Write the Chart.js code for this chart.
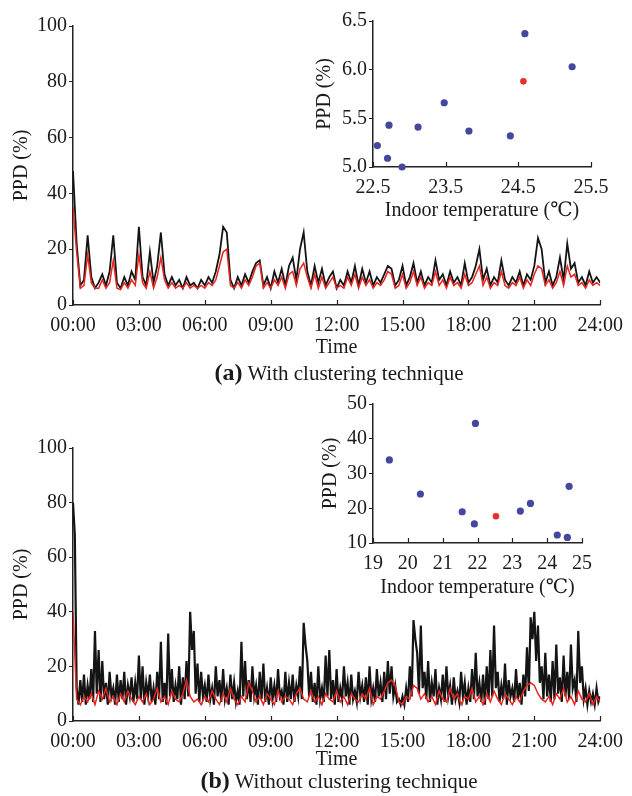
<!DOCTYPE html>
<html>
<head>
<meta charset="utf-8">
<script src="https://cdn.jsdelivr.net/npm/chart.js@4.4.0/dist/chart.umd.min.js"></script>
<style>
body{margin:0;background:#fff;width:632px;height:796px;position:relative;overflow:hidden;
  font-family:"Liberation Serif","DejaVu Serif",serif;color:#1a1a1a}
canvas{position:absolute}
.cap{position:absolute;left:339px;transform:translateX(-50%);white-space:nowrap;font-size:21px;line-height:24px}
.cap b{font-size:24px}
</style>
</head>
<body>
<canvas id="mainA" width="632" height="362" style="left:0;top:0"></canvas>
<canvas id="insetA" width="332" height="225" style="left:300px;top:0"></canvas>
<div class="cap" style="top:360px"><b>(a)</b> With clustering technique</div>
<canvas id="mainB" width="632" height="374" style="left:0;top:400px"></canvas>
<canvas id="insetB" width="332" height="222" style="left:300px;top:380px"></canvas>
<div class="cap" style="top:768px"><b>(b)</b> Without clustering technique</div>
<script>
// time axis
const timeTicks = [0, 3, 6, 9, 12, 15, 18, 21, 24];
const timeLabels = ['00:00', '03:00', '06:00', '09:00', '12:00', '15:00', '18:00', '21:00', '24:00'];

// (a) with clustering, one value every 10 min
const stepA = 1 / 6;
const blackA = [
  48, 22, 7, 9, 25, 10,
  6, 8, 11, 7, 12, 25,
  8, 6, 10, 7, 12, 9,
  28, 10, 7, 19, 8, 14,
  26, 11, 7, 10, 7, 9,
  6, 10, 7, 8, 6, 9,
  7, 10, 8, 12, 18, 28,
  26, 9, 6, 10, 7, 11,
  8, 12, 15, 16, 7, 10,
  6, 12, 8, 13, 7, 14,
  17, 9, 20, 26, 12, 7,
  14, 8, 13, 7, 10, 12,
  6, 9, 7, 12, 8, 14,
  7, 13, 8, 12, 7, 10,
  8, 11, 14, 13, 7, 9,
  14, 7, 10, 15, 8, 12,
  7, 10, 8, 16, 9, 11,
  7, 12, 8, 10, 7, 15,
  8, 10, 14, 20, 9, 13,
  7, 10, 8, 16, 9, 7,
  10, 8, 12, 7, 11, 9,
  14, 24, 20, 8, 12, 7,
  10, 17, 9, 22, 13, 15,
  8, 10, 7, 12, 8, 10,
  8
];
const redA = [
  35, 19, 6, 7, 18, 8,
  6, 6, 9, 6, 8, 16,
  6, 5.5, 8, 6, 9, 7,
  18, 8, 6, 12, 6, 10,
  17, 9, 6, 8, 6, 7,
  6, 8, 6, 7, 6, 7,
  6, 8, 7, 9, 14, 19,
  20, 7, 6, 8, 6, 9,
  7, 10, 14, 15, 6, 8,
  6, 9, 7, 10, 6, 11,
  12, 7, 13, 15, 10, 6,
  11, 6, 10, 6, 8, 10,
  6, 7, 6, 10, 7, 11,
  6, 10, 7, 9, 6, 8,
  7, 9, 12, 11, 6, 7,
  11, 6, 8, 12, 7, 10,
  6, 8, 7, 12, 7, 9,
  6, 10, 7, 8, 6, 11,
  7, 8, 11, 14, 7, 10,
  6, 8, 7, 12, 7, 6,
  8, 7, 10, 6, 9, 7,
  11, 14, 13, 7, 9, 6,
  8, 12, 7, 14, 10, 11,
  7, 8, 6, 9, 7, 8,
  7
];

// (b) without clustering: black every 5 min, red every 10 min
const stepBlackB = 1 / 12;
const blackB = [
  80, 68, 12, 6, 15, 7, 17, 6, 13, 8, 19, 7,
  33, 10, 26, 7, 22, 8, 14, 6, 18, 9, 12, 6,
  17, 7, 15, 8, 18, 6, 13, 9, 16, 7, 14, 8,
  24, 8, 20, 6, 14, 9, 17, 7, 12, 6, 18, 8,
  29, 7, 14, 6, 32, 9, 19, 7, 13, 8, 20, 6,
  16, 8, 22, 9, 40, 26, 33, 10, 21, 7, 18, 9,
  13, 7, 17, 8, 12, 6, 20, 9, 15, 7, 19, 8,
  12, 6, 17, 8, 14, 7, 11, 6, 29, 9, 22, 8,
  15, 7, 20, 9, 13, 6, 18, 8, 21, 7, 12, 6,
  16, 8, 13, 7, 19, 9, 11, 6, 18, 7, 14, 8,
  17, 7, 13, 9, 20, 8, 36, 28, 22, 9, 18, 7,
  14, 6, 20, 8, 12, 7, 24, 9, 26, 8, 15, 6,
  19, 7, 12, 8, 20, 9, 14, 6, 17, 8, 11, 7,
  18, 9, 13, 7, 16, 6, 20, 8, 12, 7, 19, 9,
  14, 7, 18, 8, 22, 10, 20, 9, 13, 7, 8, 6,
  9, 6, 12, 7, 20, 9, 37, 30, 25, 10, 35, 12,
  18, 8, 22, 7, 14, 9, 19, 6, 12, 8, 17, 7,
  20, 9, 13, 6, 16, 8, 11, 7, 18, 9, 14, 6,
  12, 7, 19, 8, 25, 9, 14, 7, 17, 6, 20, 8,
  26, 9, 35, 12, 18, 7, 13, 8, 21, 6, 15, 9,
  12, 7, 19, 8, 14, 6, 17, 9, 27, 11, 38, 30,
  40, 22, 35, 14, 20, 8, 25, 9, 17, 7, 22, 8,
  28, 10, 16, 7, 24, 9, 18, 8, 28, 12, 15, 7,
  33, 14, 20, 8, 12, 6, 11, 7, 10, 6, 12, 7,
  9
];
const stepRedB = 1 / 6;
const redB = [
  40, 8, 6, 9, 7, 10,
  6, 11, 8, 12, 7, 9,
  6, 10, 7, 11, 8, 6,
  9, 7, 10, 6, 8, 12,
  7, 9, 6, 11, 8, 7,
  10, 15, 9, 7, 8, 6,
  9, 7, 11, 8, 6, 10,
  7, 12, 8, 6, 9, 7,
  14, 11, 7, 9, 6, 10,
  8, 6, 11, 7, 9, 8,
  6, 10, 12, 8, 7, 11,
  7, 9, 6, 10, 8, 7,
  11, 7, 9, 6, 10, 8,
  7, 10, 8, 12, 6, 9,
  8, 11, 14, 15, 13, 7,
  6, 9, 8, 13, 12, 8,
  10, 7, 9, 6, 11, 8,
  7, 12, 8, 10, 6, 9,
  8, 12, 7, 9, 6, 10,
  7, 11, 8, 6, 10, 8,
  6, 9, 7, 11, 13, 14,
  13, 10, 8, 7, 9, 6,
  10, 8, 12, 7, 9, 6,
  11, 8, 7, 10, 6, 9,
  7
];

// insets: PPD vs indoor temperature
const tempTicksA = [22.5, 23.5, 24.5, 25.5];
const tempA = [22.56, 22.70, 22.72, 22.90, 23.12, 23.48, 23.82, 24.39, 24.59, 25.24];
const ppdA = [5.22, 5.09, 5.43, 5.00, 5.41, 5.66, 5.37, 5.32, 6.37, 6.03];
const redTempA = [24.57];
const redPpdA = [5.88];

const tempTicksB = [19, 20, 21, 22, 23, 24, 25];
const tempB = [19.47, 20.36, 21.56, 21.91, 21.94, 23.23, 23.52, 24.29, 24.58, 24.63];
const ppdB = [33.9, 24.1, 19.0, 15.5, 44.4, 19.2, 21.4, 12.3, 11.6, 26.3];
const redTempB = [22.53];
const redPpdB = [17.7];

Chart.defaults.font.family = '"Liberation Serif", "DejaVu Serif", serif';
Chart.defaults.font.size = 20;
Chart.defaults.color = '#1a1a1a';

const AXIS = '#222';

// x ticks of these figures point into the plot
const inwardTicks = {
  id: 'inwardTicks',
  afterDatasetsDraw(chart) {
    const x = chart.scales.x, ctx = chart.ctx, y0 = chart.chartArea.bottom;
    ctx.save();
    ctx.strokeStyle = AXIS;
    ctx.lineWidth = 1.2;
    ctx.beginPath();
    x.ticks.forEach(t => {
      const px = Math.round(x.getPixelForValue(t.value)) + 0.5;
      ctx.moveTo(px, y0);
      ctx.lineTo(px, y0 - 5);
    });
    ctx.stroke();
    ctx.restore();
  }
};

function pts(xs, ys) { return xs.map((v, i) => ({x: v, y: ys[i]})); }
function series(vals, step) { return vals.map((v, i) => ({x: i * step, y: v})); }

function yAxis(min, max, step, titlePad, fmt) {
  return {
    min: min, max: max,
    ticks: {stepSize: step, padding: 2, callback: fmt},
    grid: {display: true, drawOnChartArea: false, drawTicks: true, tickLength: 4, color: AXIS},
    border: {display: true, color: AXIS, width: 1.5},
    title: {display: true, text: 'PPD (%)', padding: {top: titlePad, bottom: 0}},
    afterFit: s => { s.width = 73; }
  };
}

function xAxis(min, max, tickVals, fmt, title, h) {
  return {
    type: 'linear', min: min, max: max,
    afterBuildTicks: s => { s.ticks = tickVals.map(v => ({value: v})); },
    ticks: {padding: 9, maxRotation: 0, autoSkip: false, callback: fmt},
    grid: {display: false, drawTicks: false},
    border: {display: true, color: AXIS, width: 1.5},
    title: {display: true, text: title, padding: {top: 0, bottom: 2}},
    afterFit: s => { s.height = h; }
  };
}

function timeChart(id, red, redStep, black, blackStep, padTop, xh, blackWidth) {
  new Chart(document.getElementById(id), {
    type: 'line',
    data: {
      datasets: [
        {data: series(red, redStep), borderColor: '#e8241e', borderWidth: 1.5, pointRadius: 0, tension: 0, order: 0},
        {data: series(black, blackStep), borderColor: '#141414', borderWidth: blackWidth, pointRadius: 0, tension: 0, order: 1}
      ]
    },
    options: {
      responsive: false, animation: false,
      layout: {padding: {top: padTop, right: 25, left: 0, bottom: 0}},
      plugins: {legend: {display: false}, tooltip: {enabled: false}},
      scales: {
        x: xAxis(0, 24, timeTicks, (v, i) => timeLabels[i], 'Time', xh),
        y: yAxis(0, 100, 20, 10)
      }
    },
    plugins: [inwardTicks]
  });
}

function insetChart(id, xs, ys, rx, ry, xmin, xmax, tickVals, xfmt, ymin, ymax, ystep, yfmt, padTop, padRight, titlePad, xh) {
  new Chart(document.getElementById(id), {
    type: 'scatter',
    data: {
      datasets: [
        {data: pts(rx, ry), backgroundColor: '#e8302a', borderWidth: 0, pointRadius: 3.3, clip: false, order: 0},
        {data: pts(xs, ys), backgroundColor: '#46469e', borderWidth: 0, pointRadius: 3.6, clip: false, order: 1}
      ]
    },
    options: {
      responsive: false, animation: false,
      layout: {padding: {top: padTop, right: padRight, left: 0, bottom: 0}},
      plugins: {legend: {display: false}, tooltip: {enabled: false}},
      scales: {
        x: xAxis(xmin, xmax, tickVals, xfmt, 'Indoor temperature (\u2103)', xh),
        y: yAxis(ymin, ymax, ystep, titlePad, yfmt)
      }
    },
    plugins: [inwardTicks]
  });
}

timeChart('mainA', redA, stepA, blackA, stepA, 26, 57, 1.8);
timeChart('mainB', redB, stepRedB, blackB, stepBlackB, 48, 53, 2.2);
insetChart('insetA', tempA, ppdA, redTempA, redPpdA, 22.5, 25.5, tempTicksA, v => v.toFixed(1),
  5, 6.5, 0.5, v => v.toFixed(1), 21, 41, 13, 58);
insetChart('insetB', tempB, ppdB, redTempB, redPpdB, 19, 25, tempTicksB, v => String(v),
  10, 50, 10, v => String(v), 24, 50, 19, 59);
</script>
</body>
</html>
